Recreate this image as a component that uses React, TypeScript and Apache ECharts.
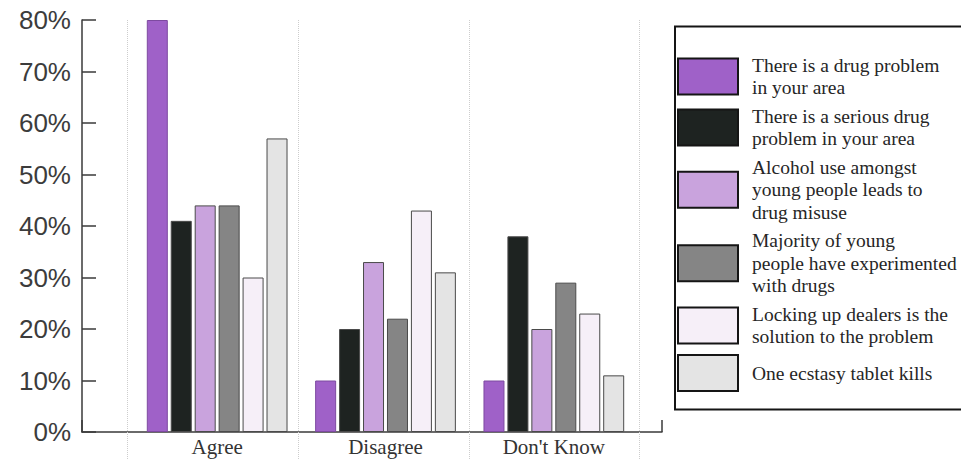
import React, { useEffect, useRef } from "react";
import * as echarts from "echarts";

const categories = ["Agree", "Disagree", "Don't Know"];

const seriesNames = [
  "There is a drug problem in your area",
  "There is a serious drug problem in your area",
  "Alcohol use amongst young people leads to drug misuse",
  "Majority of young people have experimented with drugs",
  "Locking up dealers is the solution to the problem",
  "One ecstasy tablet kills",
];

// legend text broken into printed lines
const legendLines = [
  ["There is a drug problem", "in your area"],
  ["There is a serious drug", "problem in your area"],
  ["Alcohol use amongst", "young people leads to", "drug misuse"],
  ["Majority of young", "people have experimented", "with drugs"],
  ["Locking up dealers is the", "solution to the problem"],
  ["One ecstasy tablet kills"],
];

// percentages per category: Agree, Disagree, Don't Know
const drugProblem = [80, 10, 10];
const seriousProblem = [41, 20, 38];
const alcoholMisuse = [44, 33, 20];
const experimented = [44, 22, 29];
const lockingUp = [30, 43, 23];
const ecstasyKills = [57, 31, 11];

const yTicks = [0, 10, 20, 30, 40, 50, 60, 70, 80];

const seriesValues = [
  drugProblem,
  seriousProblem,
  alcoholMisuse,
  experimented,
  lockingUp,
  ecstasyKills,
];

const colors = ["#9f61c8", "#1e2321", "#c9a3dd", "#858585", "#f6eff8", "#e4e4e4"];

const W = 961;
const H = 459;

export default function App() {
  const ref = useRef<HTMLDivElement>(null);

  useEffect(() => {
    if (!ref.current) return;
    const chart = echarts.init(ref.current, undefined, { renderer: "svg" });

    const axisColor = "#3a3a3a";
    const dividerColor = "#cdcdcd";
    const gridTop = 20;
    const gridBottom = 27;

    const option: echarts.EChartsOption = {
      animation: false,
      backgroundColor: "#ffffff",
      grid: [
        // frame: y axis and the long baseline
        { left: 82, right: W - 662, top: gridTop, bottom: gridBottom },
        // bars and category labels
        { left: 133, right: W - 638, top: gridTop, bottom: gridBottom },
        // dotted dividers between the categories
        { left: 127.7, right: W - 639.3, top: gridTop, bottom: gridBottom },
      ],
      xAxis: [
        {
          gridIndex: 0,
          type: "value",
          min: 0,
          max: 1,
          interval: 1,
          axisLine: { show: true, lineStyle: { color: axisColor, width: 1.5 } },
          axisTick: { show: true, inside: true, length: 12, lineStyle: { color: axisColor, width: 1.5 } },
          axisLabel: { show: false },
          splitLine: { show: false },
        },
        {
          gridIndex: 1,
          type: "category",
          data: categories,
          axisLine: { show: false },
          axisTick: { show: false },
          axisLabel: {
            margin: 4,
            color: "#333",
            fontFamily: "Liberation Serif",
            fontSize: 21,
          },
          splitLine: { show: false },
        },
        {
          gridIndex: 2,
          type: "category",
          data: categories,
          axisLine: { show: false },
          axisLabel: { show: false },
          axisTick: {
            show: true,
            length: gridBottom,
            lineStyle: { color: dividerColor, type: "dotted", width: 1 },
          },
          splitLine: {
            show: true,
            lineStyle: { color: dividerColor, type: "dotted", width: 1 },
          },
        },
      ],
      yAxis: [
        {
          gridIndex: 0,
          type: "value",
          min: 0,
          max: 80,
          interval: 10,
          axisLine: { show: true, lineStyle: { color: axisColor, width: 1.5 } },
          axisTick: { show: true, inside: true, length: 14, lineStyle: { color: axisColor, width: 1.5 } },
          axisLabel: {
            margin: 11,
            color: "#3c3c3c",
            fontFamily: "Liberation Sans",
            fontSize: 26,
            formatter: (v: number) => (yTicks.includes(v) ? `${v}%` : ""),
          },
          splitLine: { show: false },
        },
        { gridIndex: 1, type: "value", min: 0, max: 80, interval: 10, show: false },
        { gridIndex: 2, type: "value", min: 0, max: 80, interval: 10, show: false },
      ],
      // legend frame as three open sides; it runs off the right edge
      graphic: [
        {
          type: "polyline",
          silent: true,
          shape: {
            points: [
              [W + 20, 26.5],
              [675, 26.5],
              [675, 409.5],
              [W + 20, 409.5],
            ],
          },
          style: { fill: "none", stroke: "#151515", lineWidth: 2 },
        },
      ],
      legend: {
        orient: "vertical",
        left: 675,
        top: 26,
        padding: [28, 14, 17, 2],
        itemWidth: 60,
        itemHeight: 36,
        itemGap: 6,
        icon: "rect",
        data: seriesNames,
        itemStyle: { borderColor: "#151515", borderWidth: 2 },
        textStyle: {
          color: "#262626",
          fontFamily: "Liberation Serif",
          fontSize: 19.5,
          lineHeight: 22.5,
          padding: [0, 0, 0, 9],
        },
        formatter: (name: string) => legendLines[seriesNames.indexOf(name)].join("\n"),
      },
      series: seriesNames.map((name, i) => ({
        name,
        type: "bar" as const,
        xAxisIndex: 1,
        yAxisIndex: 1,
        data: seriesValues[i],
        barGap: "14%",
        barCategoryGap: "16.4%",
        itemStyle: {
          color: colors[i],
          borderColor: i === 0 ? "#7d4aa0" : "#4a4a4a",
          borderWidth: 1,
        },
      })),
    };

    chart.setOption(option);
    return () => chart.dispose();
  }, []);

  return (
    <div
      ref={ref}
      style={{ position: "fixed", left: 0, top: 0, width: W, height: H }}
    />
  );
}
